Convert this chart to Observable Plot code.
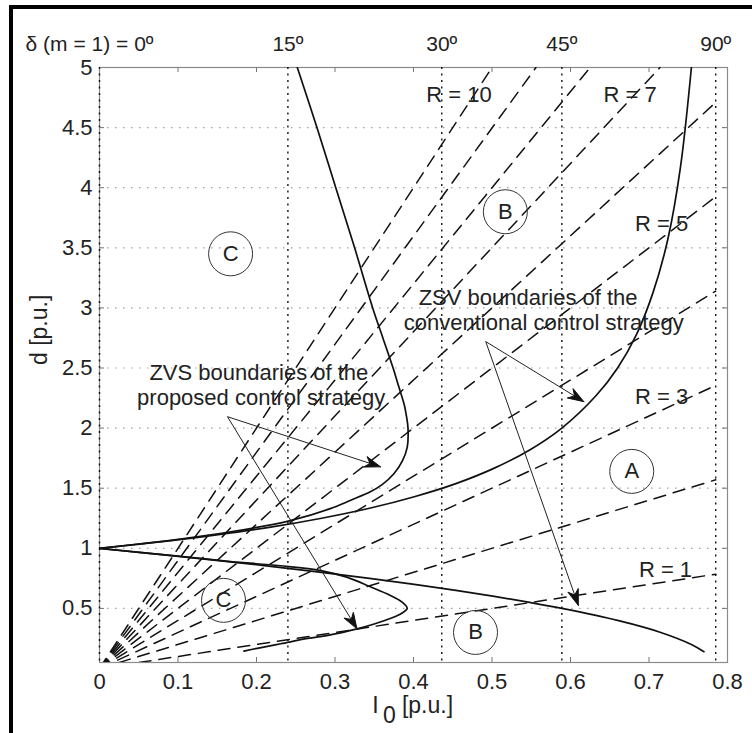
<!DOCTYPE html>
<html><head><meta charset="utf-8">
<script src="https://cdn.jsdelivr.net/npm/d3@7"></script>
<script src="https://cdn.jsdelivr.net/npm/@observablehq/plot@0.6"></script>
<style>
body{margin:0;background:#fff;}
#wrap{position:relative;width:752px;height:733px;overflow:hidden;background:#fff;}
#bt{position:absolute;left:9px;top:5px;width:743px;height:4px;background:#000;}
#bl{position:absolute;left:9px;top:5px;width:4px;height:728px;background:#000;}
</style></head><body>
<div id="wrap"><div id="chart"></div><div id="bt"></div><div id="bl"></div></div>
<script>
// ---- data ----
const xTicks = [0, 0.1, 0.2, 0.3, 0.4, 0.5, 0.6, 0.7, 0.8];
const xTickLabels = ["0", "0.1", "0.2", "0.3", "0.4", "0.5", "0.6", "0.7", "0.8"];
const yTicks = [0.5, 1, 1.5, 2, 2.5, 3, 3.5, 4, 4.5, 5];
const yTickLabels = ["0.5", "1", "1.5", "2", "2.5", "3", "3.5", "4", "4.5", "5"];
const deltaPos = [0, 0.24, 0.436, 0.589, 0.785];
const deltaLabels = ["δ (m = 1) = 0º", "15º", "30º", "45º", "90º"];

// constant-R load lines (dashed), from the origin to their end point
const rValues = [1, 2, 3, 4, 5, 6, 7, 8, 9, 10];
const rEndX = [0.785, 0.785, 0.785, 0.785, 0.785, 0.785, 0.714, 0.625, 0.556, 0.5];
const rEndY = [0.785, 1.57, 2.355, 3.14, 3.925, 4.71, 5, 5, 5, 5];

// ZVS boundaries, conventional strategy
const convUpperX = [0, 0.0766, 0.149, 0.218, 0.283, 0.344, 0.401, 0.454, 0.503, 0.548, 0.589, 0.633, 0.660, 0.684, 0.705, 0.724, 0.740, 0.754];
const convUpperY = [1, 1.053, 1.111, 1.176, 1.25, 1.333, 1.429, 1.538, 1.667, 1.818, 2.0, 2.273, 2.5, 2.778, 3.125, 3.571, 4.167, 5.0];
const convLowerX = [0, 0.0766, 0.149, 0.218, 0.283, 0.344, 0.401, 0.454, 0.503, 0.548, 0.589, 0.660, 0.715, 0.754, 0.770];
const convLowerY = [1, 0.95, 0.9, 0.85, 0.8, 0.75, 0.7, 0.65, 0.6, 0.55, 0.5, 0.4, 0.3, 0.2, 0.14];

// ZVS boundaries, proposed strategy
const propUpperX = [0, 0.05, 0.1, 0.167, 0.243, 0.294, 0.32, 0.345, 0.36, 0.375, 0.386, 0.392, 0.393, 0.391, 0.388, 0.381, 0.374, 0.361, 0.348, 0.325, 0.301, 0.277, 0.252];
const propUpperY = [1, 1.036, 1.075, 1.136, 1.23, 1.33, 1.40, 1.47, 1.53, 1.62, 1.73, 1.84, 2.0, 2.1, 2.2, 2.35, 2.5, 2.75, 3.0, 3.5, 4.0, 4.5, 5.0];
const propLowerX = [0, 0.05, 0.1, 0.167, 0.23, 0.282, 0.315, 0.345, 0.37, 0.385, 0.392, 0.385, 0.372, 0.35, 0.328, 0.294, 0.265, 0.231, 0.201, 0.184];
const propLowerY = [1, 0.966, 0.935, 0.89, 0.855, 0.815, 0.76, 0.68, 0.61, 0.555, 0.50, 0.46, 0.42, 0.37, 0.33, 0.28, 0.25, 0.206, 0.168, 0.145];

// region circles
const circleX = [0.167, 0.517, 0.678, 0.158, 0.479];
const circleY = [3.45, 3.80, 1.64, 0.567, 0.30];
const circleText = ["C", "B", "A", "C", "B"];

// R labels
const rLabelText = ["R = 10", "R = 7", "R = 5", "R = 3", "R = 1"];
const rLabelX = [0.458, 0.676, 0.716, 0.716, 0.721];
const rLabelY = [4.77, 4.77, 3.70, 2.26, 0.817];

// annotation texts
const noteText = ["ZVS boundaries of the", "proposed control strategy", "ZSV boundaries of the", "conventional control strategy"];
const noteX = [0.203, 0.206, 0.546, 0.566];
const noteY = [2.46, 2.25, 3.08, 2.875];

// annotation arrows
const arrowX1 = [0.163, 0.163, 0.492, 0.492];
const arrowY1 = [2.095, 2.095, 2.72, 2.72];
const arrowX2 = [0.358, 0.328, 0.617, 0.61];
const arrowY2 = [1.678, 0.33, 2.22, 0.525];

// ---- layout ----
const W = 752, H = 733;
const mL = 99, mR = 25, mT = 67, mB = 71;
const pW = W - mL - mR, pH = H - mT - mB;
const xDom = [0, 0.8], yDom = [0.05, 5];

// ---- tables ----
const rTable = rValues.flatMap((r, i) => [{r, x: 0, y: 0}, {r, x: rEndX[i], y: rEndY[i]}]);
const curves = [];
const addCurve = (name, xs, ys) => xs.forEach((x, i) => curves.push({name, x, y: ys[i]}));
addCurve("convUpper", convUpperX, convUpperY);
addCurve("convLower", convLowerX, convLowerY);
addCurve("propUpper", propUpperX, propUpperY);
addCurve("propLower", propLowerX, propLowerY);

const circles = circleX.map((x, i) => ({x, y: circleY[i], t: circleText[i]}));
const rLabels = rLabelText.map((t, i) => ({t, x: rLabelX[i], y: rLabelY[i]}));
const notes = noteText.map((t, i) => ({t, x: noteX[i], y: noteY[i]}));
const arrows = arrowX1.map((x1, i) => ({x1, y1: arrowY1[i], x2: arrowX2[i], y2: arrowY2[i]}));

// arrowheads: notched triangles computed in pixel space, mapped back to data
const toPx = (x, y) => [(x - xDom[0]) / (xDom[1] - xDom[0]) * pW, (y - yDom[0]) / (yDom[1] - yDom[0]) * pH];
const toData = (px, py) => [px / pW * (xDom[1] - xDom[0]) + xDom[0], py / pH * (yDom[1] - yDom[0]) + yDom[0]];
const heads = [];
arrows.forEach((a, i) => {
  const [sx, sy] = toPx(a.x1, a.y1), [ex, ey] = toPx(a.x2, a.y2);
  const L = Math.hypot(ex - sx, ey - sy), ux = (ex - sx) / L, uy = (ey - sy) / L;
  const nx = -uy, ny = ux, hl = 16, hw = 5.5, notch = 11;
  const pts = [[ex, ey], [ex - hl * ux + hw * nx, ey - hl * uy + hw * ny], [ex - notch * ux, ey - notch * uy], [ex - hl * ux - hw * nx, ey - hl * uy - hw * ny], [ex, ey]];
  pts.forEach(([px, py]) => { const [x, y] = toData(px, py); heads.push({k: i, x, y}); });
});
const shaftEnds = arrows.map(a => {
  const [sx, sy] = toPx(a.x1, a.y1), [ex, ey] = toPx(a.x2, a.y2);
  const L = Math.hypot(ex - sx, ey - sy);
  const [x, y] = toData(ex - (ex - sx) / L * 10, ey - (ey - sy) / L * 10);
  return {x1: a.x1, y1: a.y1, x2: x, y2: y};
});

const FS = 22;
const chart = Plot.plot({
  width: W, height: H,
  marginLeft: mL, marginRight: mR, marginTop: mT, marginBottom: mB,
  x: {domain: xDom},
  y: {domain: yDom},
  style: {fontFamily: "'Liberation Sans', Arial, sans-serif", color: "#222", background: "transparent", overflow: "visible"},
  marks: [
    Plot.ruleY(yTicks.filter(v => v < 5), {stroke: "#a0a0a0", strokeDasharray: "1.5,6.5", strokeWidth: 1.2}),
    Plot.frame({stroke: "#8a8a8a", strokeWidth: 1.2}),
    Plot.ruleX(deltaPos, {stroke: "#111", strokeDasharray: "2,4.5", strokeWidth: 1.4}),
    // inward tick marks
    Plot.ruleX(xTicks.slice(1, -1), {x: d => d, insetTop: pH - 5, stroke: "#777"}),
    Plot.ruleX(xTicks.slice(1, -1), {x: d => d, insetBottom: pH - 5, stroke: "#777"}),
    Plot.ruleY(yTicks.slice(0, -1), {y: d => d, insetRight: pW - 5, stroke: "#777"}),
    Plot.ruleY(yTicks.slice(0, -1), {y: d => d, insetLeft: pW - 5, stroke: "#777"}),
    // axes (labels only)
    Plot.axisX(xTicks, {tickSize: 0, tickPadding: 11, fontSize: FS, tickFormat: (d, i) => xTickLabels[i], fill: "#222"}),
    Plot.axisY(yTicks, {tickSize: 0, tickPadding: 7, fontSize: FS, tickFormat: (d, i) => yTickLabels[i], fill: "#222"}),
    // constant-R dashed lines
    Plot.line(rTable, {x: "x", y: "y", z: "r", stroke: "#111", strokeWidth: 1.5, strokeDasharray: "12,8", clip: true}),
    // ZVS boundary curves
    Plot.line(curves, {x: "x", y: "y", z: "name", stroke: "#111", strokeWidth: 1.7, curve: "catmull-rom", clip: true}),
    // region circles
    Plot.dot(circles, {x: "x", y: "y", r: 22, stroke: "#333", strokeWidth: 1}),
    Plot.text(circles, {x: "x", y: "y", text: "t", fontSize: FS, fill: "#222"}),
    // labels
    Plot.text(rLabels, {x: "x", y: "y", text: "t", fontSize: FS, fill: "#222"}),
    Plot.text(notes, {x: "x", y: "y", text: "t", fontSize: FS, fill: "#222"}),
    // arrows
    Plot.link(shaftEnds, {x1: "x1", y1: "y1", x2: "x2", y2: "y2", stroke: "#222", strokeWidth: 1}),
    Plot.line(heads, {x: "x", y: "y", z: "k", fill: "#111", stroke: "#111", strokeWidth: 1, curve: "linear"}),
    // top delta labels
    Plot.text(deltaPos.slice(1), {x: d => d, text: (d, i) => deltaLabels[i + 1], frameAnchor: "top", dy: -31, fontSize: 21, fill: "#222"}),
    Plot.text([deltaLabels[0]], {x: () => deltaPos[0], text: d => d, frameAnchor: "top", dy: -31, dx: 54, textAnchor: "end", fontSize: 21, fill: "#222"}),
    // axis titles
    Plot.text(["d [p.u.]"], {text: d => d, frameAnchor: "left", dx: -60, rotate: -90, fontSize: 23, fill: "#222"}),
    Plot.text(["I"], {text: d => d, frameAnchor: "bottom", dx: -38, dy: 50, fontSize: 23, fill: "#222"}),
    Plot.text(["0"], {text: d => d, frameAnchor: "bottom", dx: -24, dy: 60, fontSize: 23, fill: "#222"}),
    Plot.text(["[p.u.]"], {text: d => d, frameAnchor: "bottom", dx: 14, dy: 50, fontSize: 23, fill: "#222"})
  ]
});
document.getElementById("chart").appendChild(chart);
</script>
</body></html>
